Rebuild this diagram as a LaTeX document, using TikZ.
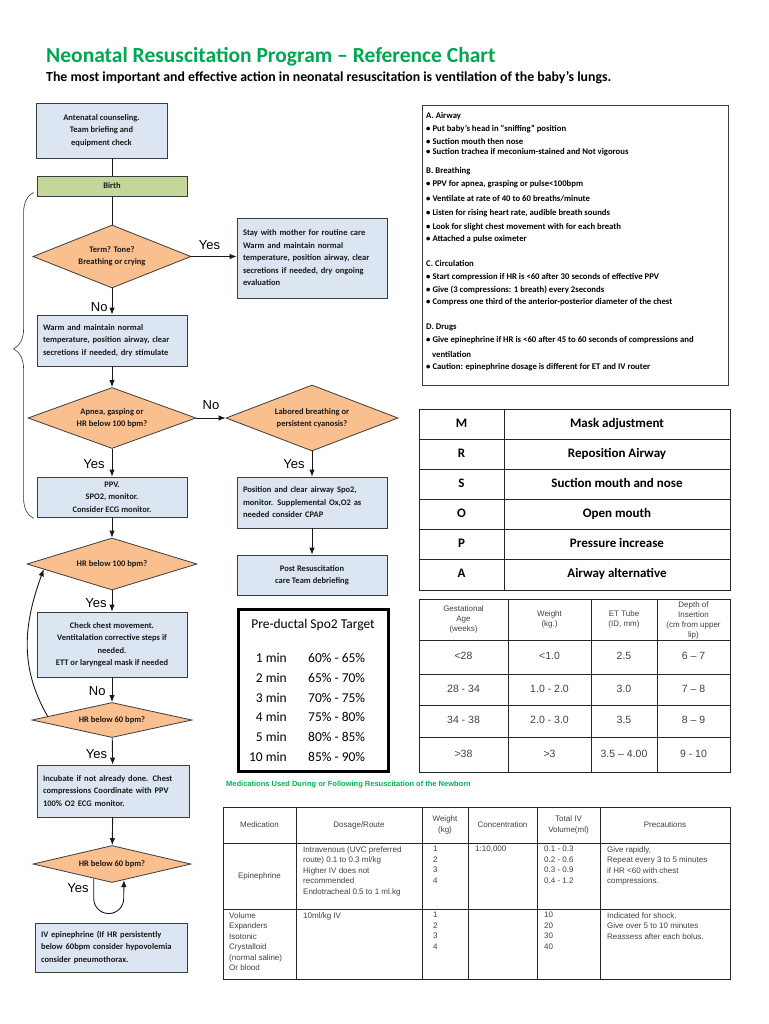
\documentclass[tikz,border=0pt]{standalone}
\usepackage{fontspec}
\setmainfont{Carlito}
\newfontfamily\arialfont{Liberation Sans}
\usetikzlibrary{shapes.geometric,arrows.meta,positioning,calc,decorations.pathreplacing}

\definecolor{titlegreen}{RGB}{0,166,81}
\definecolor{medgreen}{RGB}{0,176,80}
\definecolor{boxblue}{RGB}{220,230,242}
\definecolor{birthgreen}{RGB}{196,215,155}
\definecolor{diaorange}{RGB}{250,191,143}
\definecolor{boxline}{RGB}{60,60,60}
\definecolor{tabgray}{RGB}{64,64,64}

\tikzstyle{titletext} = [inner sep=0pt, text=titlegreen, font=\fontsize{21.5}{24}\selectfont\bfseries]
\tikzstyle{subtitletext} = [inner sep=0pt, font=\fontsize{13.8}{16}\selectfont\bfseries]
\tikzstyle{bluebox} = [draw=boxline, fill=boxblue, rectangle, line width=0.8pt, minimum width=150pt, inner xsep=6pt, inner ysep=3pt, align=center, text=black!90, font=\fontsize{8.5}{12.5}\selectfont\bfseries]
\tikzstyle{leftbox} = [bluebox, align=left, text width=138pt]
\tikzstyle{birthbox} = [bluebox, fill=birthgreen]
\tikzstyle{decision} = [draw=boxline, fill=diaorange, diamond, line width=0.8pt, inner sep=0pt, align=center, text=black!90, font=\fontsize{8.5}{12.5}\selectfont\bfseries]
\tikzstyle{answer} = [inner sep=0pt, font=\arialfont\fontsize{13}{13}\selectfont]
\tikzstyle{plainline} = [line width=0.9pt, draw=black!90]
\tikzstyle{flow} = [plainline, -{Latex[length=7pt,width=5.5pt]}]
\tikzstyle{abcdbox} = [draw=boxline, rectangle, line width=0.8pt]
\tikzstyle{abcdtext} = [inner sep=0pt, anchor=west, font=\fontsize{8.7}{10}\selectfont\bfseries]
\tikzstyle{spobox} = [draw=black, rectangle, line width=3pt]
\tikzstyle{spotext} = [inner sep=0pt, text height=9pt, text depth=2pt, font=\fontsize{13.5}{15}\selectfont]
\tikzstyle{tabline} = [line width=0.8pt, draw=black!85]
\tikzstyle{mrstext} = [inner sep=0pt, text height=9pt, text depth=3pt, font=\fontsize{13}{15}\selectfont\bfseries]
\tikzstyle{gesthead} = [inner sep=0pt, align=center, text=tabgray, font=\arialfont\fontsize{8}{10}\selectfont]
\tikzstyle{gestbody} = [inner sep=0pt, text height=7.5pt, text depth=2pt, text=tabgray, font=\arialfont\fontsize{10.5}{12}\selectfont]
\tikzstyle{medhead} = [inner sep=0pt, align=center, text=tabgray, font=\arialfont\fontsize{8}{10.5}\selectfont]
\tikzstyle{medbody} = [inner sep=0pt, align=left, anchor=north west, text=tabgray, font=\arialfont\fontsize{8}{10.5}\selectfont]
\tikzstyle{medtitle} = [inner sep=0pt, text=medgreen, font=\arialfont\fontsize{7.5}{9}\selectfont\bfseries]

\begin{document}
\begin{tikzpicture}[x=1pt,y=1pt]
\useasboundingbox (0,0) rectangle (768,-1024);

% heading
\node[titletext, anchor=west] (title) at (46,-57) {Neonatal Resuscitation Program – Reference Chart};
\node[subtitletext, anchor=west] (subtitle) at (46,-78) {The most important and effective action in neonatal resuscitation is ventilation of the baby’s lungs.};

% flow chart
\node[bluebox, minimum width=131pt, minimum height=55pt] (antenatal) at (101.5,-130.5) {Antenatal counseling.\\Team briefing and\\equipment check};
\node[birthbox, minimum height=20pt] (birth) at (112,-186) {Birth};
\node[decision, aspect=2.5, minimum width=158pt, minimum height=63pt] (term) at (112,-256.5) {Term? Tone?\\Breathing or crying};
\node[leftbox, minimum height=80pt] (stay) at (312,-258) {Stay with mother for routine care\\Warm and maintain normal\\temperature, position airway, clear\\secretions if needed, dry ongoing\\evaluation};
\node[leftbox, minimum height=51pt] (warm) at (112,-340.5) {Warm and maintain normal\\temperature, position airway, clear\\secretions if needed, dry stimulate};
\node[decision, aspect=2.75, minimum width=168pt, minimum height=61pt] (apnea) at (112,-418) {Apnea, gasping or\\HR below 100 bpm?};
\node[decision, aspect=2.6, minimum width=172pt, minimum height=66pt] (labored) at (312,-418) {Labored breathing or\\persistent cyanosis?};
\node[bluebox, minimum height=40pt] (ppv) at (112,-497) {PPV.\\SPO2, monitor.\\Consider ECG monitor.};
\node[leftbox, minimum height=51pt] (position) at (312,-502.5) {Position and clear airway Spo2,\\monitor. Supplemental Ox,O2 as\\needed consider CPAP};
\node[bluebox, minimum height=40pt] (post) at (312,-575) {Post Resuscitation\\care Team debriefing};
\node[decision, aspect=3.3, minimum width=170pt, minimum height=52pt] (hr100) at (112,-564) {HR below 100 bpm?};
\node[bluebox, minimum height=65pt] (check) at (112,-644.5) {Check chest movement.\\Ventitalation corrective steps if\\needed.\\ETT or laryngeal mask if needed};
\node[decision, aspect=4.6, minimum width=160pt, minimum height=35pt] (hr60) at (112,-720) {HR below 60 bpm?};
\node[leftbox, text width=140pt, minimum height=52pt] (incubate) at (113,-791) {Incubate if not already done. Chest\\compressions Coordinate with PPV\\100\% O2 ECG monitor.};
\node[decision, aspect=4.3, minimum width=158pt, minimum height=37pt] (hr60b) at (112,-864) {HR below 60 bpm?};
\node[leftbox, text width=140pt, minimum height=49pt] (iv) at (111,-947.5) {IV epinephrine (If HR persistently\\below 60bpm consider hypovolemia\\consider pneumothorax.};

\draw[plainline] (antenatal.south -| birth.north) -- (birth.north);
\draw[plainline] (birth) -- (term);
\draw[flow] (term.east) -- node[answer, above=6pt, pos=0.4] (yes1) {Yes} (term.east -| stay.west);
\draw[flow] (term) -- node[answer, left=4pt, pos=0.7] (no1) {No} (warm);
\draw[flow] (warm) -- (apnea);
\draw[flow] (apnea) -- node[answer, above=8pt] (no2) {No} (labored);
\draw[flow] (labored) -- node[answer, left=7pt] (yes2) {Yes} (position);
\draw[flow] (position) -- (post);
\draw[flow] (apnea) -- node[answer, left=7pt, pos=0.55] (yes3) {Yes} (ppv);
\draw[flow] (ppv) -- (hr100);
\draw[flow] (hr100) -- node[answer, left=5pt, pos=0.6] (yes4) {Yes} (check);
\draw[flow] (check) -- node[answer, left=6pt, pos=0.55] (no3) {No} (hr60);
\draw[flow] (hr60) -- node[answer, left=5pt, pos=0.6] (yes5) {Yes} (incubate);
\draw[flow] (incubate) -- (hr60b);
\draw[flow] ($(hr60.west)!0.2!(hr60.north)$) to[out=120,in=250] ($(hr100.west)!0.2!(hr100.south)$);
% loop back into the last check
\coordinate (loopin) at ($(hr60b.south)!0.23!(hr60b.west)$);
\coordinate (loopout) at ($(hr60b.south)!0.15!(hr60b.east)$);
\draw[flow] (loopin) -- ++(0,-20) arc[start angle=180,end angle=360,radius=15] -- (loopout);
\node[answer, anchor=east] (yes6) at ([xshift=-5pt,yshift=-10pt]loopin) {Yes};
\draw[decorate, decoration={brace, amplitude=20pt, aspect=0.52}, line width=0.6pt, draw=black!80] ([xshift=-3pt,yshift=-1pt]ppv.south west) -- ([xshift=-3pt,yshift=4pt]birth.south west);

% saturation targets
\node[spobox, minimum width=150pt, minimum height=162pt] (spo) at (313,-690) {};
\node[spotext] (spotitle) at (313,-625) {Pre-ductal Spo2 Target};
\foreach \mins/\pct [count=\i] in {1 min/60\% - 65\%, 2 min/65\% - 70\%, 3 min/70\% - 75\%, 4 min/75\% - 80\%, 5 min/80\% - 85\%, 10 min/85\% - 90\%} {
  \node[spotext, anchor=east] (spomin-\i) at (287,{-659-19.8*(\i-1)}) {\mins};
  \node[spotext, anchor=west] (spopct-\i) at (308,{-659-19.8*(\i-1)}) {\pct};
}

% ABCD box
\node[abcdbox, minimum width=306pt, minimum height=280pt] (abcd) at (575,-245) {};
\foreach \y/\t [count=\i] in {116/{A. Airway}, 129/{• Put baby’s head in “sniffing” position}, 141/{• Suction mouth then nose}, 152/{• Suction trachea if meconium-stained and Not vigorous},
  171/{B. Breathing}, 184/{• PPV for apnea, grasping or pulse<100bpm}, 199/{• Ventilate at rate of 40 to 60 breaths/minute}, 213/{• Listen for rising heart rate, audible breath sounds}, 227/{• Look for slight chest movement with for each breath}, 239/{• Attached a pulse oximeter},
  263/{C. Circulation}, 277/{• Start compression if HR is <60 after 30 seconds of effective PPV}, 290/{• Give (3 compressions: 1 breath) every 2seconds}, 302/{• Compress one third of the anterior-posterior diameter of the chest},
  327/{D. Drugs}, 340/{• Give epinephrine if HR is <60 after 45 to 60 seconds of compressions and}, 367/{• Caution: epinephrine dosage is different for ET and IV router}}
  \node[abcdtext] (abcd-\i) at (426,-\y) {\t};
\node[abcdtext] (abcd-wrap) at (432,-354) {ventilation};

% MR SOPA
\draw[tabline] (419,-409) rectangle (730,-590);
\foreach \i in {1,...,5} \draw[tabline] (419,{-409-30.17*\i}) -- (730,{-409-30.17*\i});
\draw[tabline] (504,-409) -- (504,-590);
\foreach \lett/\desc [count=\i] in {M/Mask adjustment, R/Reposition Airway, S/Suction mouth and nose, O/Open mouth, P/Pressure increase, A/Airway alternative} {
  \node[mrstext] (mrsl-\i) at (461.5,{-424.1-30.17*(\i-1)}) {\lett};
  \node[mrstext] (mrsd-\i) at (617,{-424.1-30.17*(\i-1)}) {\desc};
}

% tube size table
\draw[tabline] (419,-599) rectangle (730,-772);
\foreach \y in {640,674,705.5,737} \draw[tabline] (419,-\y) -- (730,-\y);
\foreach \x in {508,591,657} \draw[tabline] (\x,-599) -- (\x,-772);
\node[gesthead] (gh-1) at (463.5,-619.5) {Gestational\\Age\\(weeks)};
\node[gesthead] (gh-2) at (549.5,-619.5) {Weight\\(kg.)};
\node[gesthead] (gh-3) at (624,-619.5) {ET Tube\\(ID, mm)};
\node[gesthead] (gh-4) at (693.5,-620) {Depth of\\Insertion\\(cm from upper\\lip)};
\foreach \y/\gage/\wgt/\tube/\ins [count=\i] in {657/<28/<1.0/2.5/6 – 7, 689.5/28 - 34/1.0 - 2.0/3.0/7 – 8, 721/34 - 38/2.0 - 3.0/3.5/8 – 9, 754.5/>38/>3/3.5 – 4.00/9 - 10} {
  \node[gestbody] (ga-\i) at (463.5,-\y) {\gage};
  \node[gestbody] (gw-\i) at (549.5,-\y) {\wgt};
  \node[gestbody] (gt-\i) at (624,-\y) {\tube};
  \node[gestbody] (gd-\i) at (693.5,-\y) {\ins};
}

% medications
\node[medtitle, anchor=west] (medtitle) at (226,-785) {Medications Used During or Following Resuscitation of the Newborn};
\draw[tabline] (223,-807) rectangle (730,-979);
\foreach \y in {843,909} \draw[tabline] (223,-\y) -- (730,-\y);
\foreach \x in {296,422,468,537,600} \draw[tabline] (\x,-807) -- (\x,-979);
\node[medhead] (mh-1) at (259.5,-825) {Medication};
\node[medhead] (mh-2) at (359,-825) {Dosage/Route};
\node[medhead] (mh-3) at (445,-825) {Weight\\(kg)};
\node[medhead] (mh-4) at (502.5,-825) {Concentration};
\node[medhead] (mh-5) at (568.5,-825) {Total IV\\Volume(ml)};
\node[medhead] (mh-6) at (665,-825) {Precautions};
\node[medhead] (epi) at (259.5,-876) {Epinephrine};
\node[medbody] (epi-dose) at (303,-846) {Intravenous (UVC preferred\\route) 0.1 to 0.3 ml/kg\\Higher IV does not\\recommended\\Endotracheal 0.5 to 1 ml.kg};
\node[medbody] (epi-wt) at (433,-846) {1\\2\\3\\4};
\node[medbody] (epi-conc) at (475,-846) {1:10,000};
\node[medbody] (epi-vol) at (544,-846) {0.1 - 0.3\\0.2 - 0.6\\0.3 - 0.9\\0.4 - 1.2};
\node[medbody] (epi-prec) at (607,-846) {Give rapidly,\\Repeat every 3 to 5 minutes\\if HR <60 with chest\\compressions.};
\node[medbody] (vol) at (229,-912) {Volume\\Expanders\\Isotonic\\Crystalloid\\(normal saline)\\Or blood};
\node[medbody] (vol-dose) at (303,-912) {10ml/kg IV};
\node[medbody] (vol-wt) at (433,-912) {1\\2\\3\\4};
\node[medbody] (vol-vol) at (544,-912) {10\\20\\30\\40};
\node[medbody] (vol-prec) at (607,-912) {Indicated for shock.\\Give over 5 to 10 minutes\\Reassess after each bolus.};
\end{tikzpicture}
\end{document}
